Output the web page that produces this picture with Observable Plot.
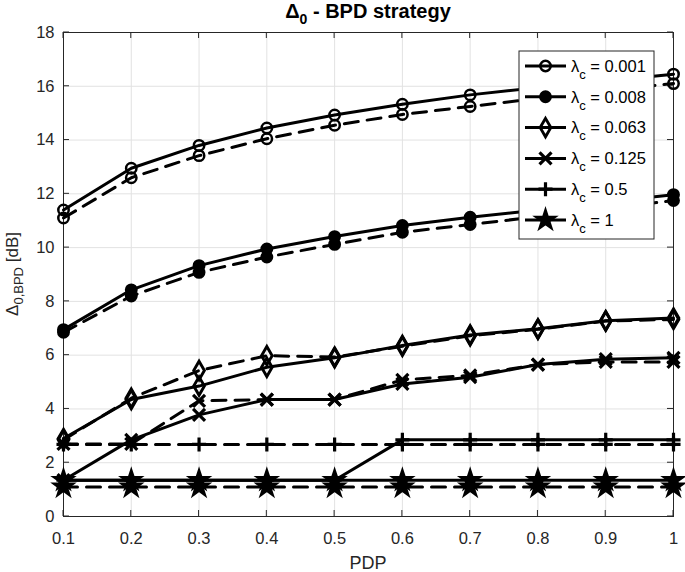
<!DOCTYPE html>
<html>
<head>
<meta charset="utf-8">
<script src="https://cdn.jsdelivr.net/npm/d3@7"></script>
<script src="https://cdn.jsdelivr.net/npm/@observablehq/plot@0.6"></script>
<style>
  body { margin: 0; background: #fff; }
  #chart svg { font-family: "Liberation Sans", Arial, sans-serif; display: block; }
</style>
</head>
<body>
<div id="chart"></div>
<script>
// ---- data ----
const pdp = [0.1, 0.2, 0.3, 0.4, 0.5, 0.6, 0.7, 0.8, 0.9, 1.0];
const lambdaC = ["0.001", "0.008", "0.063", "0.125", "0.5", "1"];
const xTicks = [0.1, 0.2, 0.3, 0.4, 0.5, 0.6, 0.7, 0.8, 0.9, 1];
const yTicks = [0, 2, 4, 6, 8, 10, 12, 14, 16, 18];

const solid_0001 = [11.4, 12.95, 13.8, 14.45, 14.93, 15.33, 15.68, 15.95, 16.2, 16.45];
const dashed_0001 = [11.1, 12.6, 13.42, 14.05, 14.55, 14.95, 15.25, 15.55, 15.85, 16.1];
const solid_0008 = [6.95, 8.43, 9.33, 9.95, 10.41, 10.82, 11.13, 11.4, 11.7, 11.97];
const dashed_0008 = [6.85, 8.2, 9.08, 9.65, 10.12, 10.57, 10.86, 11.15, 11.45, 11.75];
const solid_0063 = [2.9, 4.35, 4.85, 5.55, 5.9, 6.36, 6.75, 6.98, 7.28, 7.38];
const dashed_0063 = [2.85, 4.4, 5.43, 5.98, 5.93, 6.33, 6.72, 6.96, 7.27, 7.33];
const solid_0125 = [1.35, 2.85, 3.78, 4.35, 4.35, 4.93, 5.18, 5.65, 5.85, 5.9];
const dashed_0125 = [2.7, 2.7, 4.3, 4.35, 4.35, 5.08, 5.25, 5.65, 5.75, 5.75];
const solid_05 = [1.35, 1.35, 1.35, 1.35, 1.35, 2.85, 2.85, 2.85, 2.85, 2.85];
const dashed_05 = [2.68, 2.68, 2.68, 2.68, 2.68, 2.68, 2.68, 2.68, 2.68, 2.68];
const solid_1 = [1.35, 1.35, 1.35, 1.35, 1.35, 1.35, 1.35, 1.35, 1.35, 1.35];
const dashed_1 = [1.1, 1.1, 1.1, 1.1, 1.1, 1.1, 1.1, 1.1, 1.1, 1.1];

const solidSeries = [solid_0001, solid_0008, solid_0063, solid_0125, solid_05, solid_1];
const dashedSeries = [dashed_0001, dashed_0008, dashed_0063, dashed_0125, dashed_05, dashed_1];

// ---- styles ----
const markerStyle = [
  {symbol: "circle", fill: "none", r: 5.2, sw: 2.5},
  {symbol: "circle", fill: "black", r: 5.2, sw: 2.5},
  {symbol: "diamond", fill: "none", r: 5.6, sw: 2.9},
  {symbol: "times", fill: "none", r: 5.5, sw: 3.2},
  {symbol: "plus", fill: "none", r: 4.6, sw: 3.2},
  {symbol: "star", fill: "black", r: 6.4, sw: 2}
];
const symbolMap = {circle: d3.symbolCircle, diamond: d3.symbolDiamond, times: d3.symbolTimes, plus: d3.symbolPlus, star: d3.symbolStar};

const W = 685, H = 572;
const mL = 63, mR = 12, mT = 32, mB = 56;
const innerW = W - mL - mR, innerH = H - mT - mB;
const ink = "#262626";
const gridColor = "#e2e2e2";

const rows = [];
lambdaC.forEach((lc, i) => {
  pdp.forEach((x, j) => {
    rows.push({lambda: lc, idx: i, kind: "solid", pdp: x, value: solidSeries[i][j]});
    rows.push({lambda: lc, idx: i, kind: "dashed", pdp: x, value: dashedSeries[i][j]});
  });
});

const dataMarks = [];
lambdaC.forEach((lc, i) => {
  const s = rows.filter(r => r.idx === i && r.kind === "solid");
  const d = rows.filter(r => r.idx === i && r.kind === "dashed");
  const ms = markerStyle[i];
  dataMarks.push(Plot.line(s, {x: "pdp", y: "value", stroke: "black", strokeWidth: 3, strokeLinejoin: "round"}));
  dataMarks.push(Plot.line(d, {x: "pdp", y: "value", stroke: "black", strokeWidth: 3, strokeDasharray: "14,9", strokeLinejoin: "round"}));
  dataMarks.push(Plot.dot(s.concat(d), {x: "pdp", y: "value", symbol: ms.symbol, r: ms.r, fill: ms.fill, stroke: "black", strokeWidth: ms.sw}));
});

const chart = Plot.plot({
  width: W, height: H,
  marginLeft: mL, marginRight: mR, marginTop: mT, marginBottom: mB,
  style: {fontFamily: "Liberation Sans, Arial, sans-serif", background: "white", color: ink, overflow: "visible"},
  x: {domain: [0.1, 1], label: null},
  y: {domain: [0, 18], label: null},
  marks: [
    Plot.gridX(xTicks, {stroke: gridColor, strokeOpacity: 1, strokeWidth: 1}),
    Plot.gridY(yTicks, {stroke: gridColor, strokeOpacity: 1, strokeWidth: 1}),
    Plot.frame({stroke: ink, strokeWidth: 1}),
    Plot.axisX(xTicks, {tickSize: 0, tickPadding: 16, fontSize: 16.5, fill: ink,
      tickFormat: d => d === 1 ? "1" : d.toFixed(1)}),
    Plot.axisY(yTicks, {tickSize: 0, tickPadding: 9, fontSize: 16.5, fill: ink, tickFormat: d => String(d)}),
    ...dataMarks
  ]
});

document.getElementById("chart").appendChild(chart);

// ---- inward tick marks (via the chart's own scales) ----
const svg = d3.select(chart);
const xs = chart.scale("x"), ys = chart.scale("y");
const tickG = svg.insert("g", "g[aria-label='line']").attr("stroke", ink).attr("stroke-width", 1);
xTicks.forEach(v => {
  const px = xs.apply(v);
  tickG.append("line").attr("x1", px).attr("x2", px).attr("y1", H - mB).attr("y2", H - mB - 6);
  tickG.append("line").attr("x1", px).attr("x2", px).attr("y1", mT).attr("y2", mT + 6);
});
yTicks.forEach(v => {
  const py = ys.apply(v);
  tickG.append("line").attr("x1", mL).attr("x2", mL + 6).attr("y1", py).attr("y2", py);
  tickG.append("line").attr("x1", W - mR).attr("x2", W - mR - 6).attr("y1", py).attr("y2", py);
});

// ---- annotations: title, axis labels, legend ----
const title = svg.append("text")
  .attr("x", mL + innerW / 2).attr("y", 18)
  .attr("text-anchor", "middle").attr("font-weight", "bold").attr("font-size", 20).attr("fill", "black");
title.append("tspan").text("Δ");
title.append("tspan").attr("dy", 6).attr("font-size", 14).text("0");
title.append("tspan").attr("dy", -6).text(" - BPD strategy");

svg.append("text")
  .attr("x", mL + innerW / 2).attr("y", 569)
  .attr("text-anchor", "middle").attr("font-size", 18).attr("fill", ink)
  .text("PDP");

const yl = svg.append("text")
  .attr("transform", `translate(18,${mT + innerH / 2}) rotate(-90)`)
  .attr("text-anchor", "middle").attr("font-size", 17).attr("fill", ink);
yl.append("tspan").text("Δ");
yl.append("tspan").attr("dy", 5).attr("font-size", 13).text("0,BPD");
yl.append("tspan").attr("dy", -5).text(" [dB]");

const lg = svg.append("g");
lg.append("rect").attr("x", 519).attr("y", 51).attr("width", 135).attr("height", 188)
  .attr("fill", "white").attr("stroke", ink).attr("stroke-width", 1);
lambdaC.forEach((lc, i) => {
  const cy = 66 + i * 30.8;
  const ms = markerStyle[i];
  lg.append("line").attr("x1", 525).attr("x2", 566).attr("y1", cy).attr("y2", cy)
    .attr("stroke", "black").attr("stroke-width", 3);
  lg.append("path")
    .attr("d", d3.symbol(symbolMap[ms.symbol], ms.r * ms.r * Math.PI)())
    .attr("transform", `translate(545.5,${cy})`)
    .attr("fill", ms.fill).attr("stroke", "black").attr("stroke-width", ms.sw);
  const t = lg.append("text").attr("x", 571).attr("y", cy + 5.7).attr("font-size", 16.5)
    .attr("text-anchor", "start").attr("fill", "black");
  t.append("tspan").text("λ");
  t.append("tspan").attr("dy", 7).attr("font-size", 13).text("c");
  t.append("tspan").attr("dy", -7).text(" = " + lc);
});
</script>
</body>
</html>
